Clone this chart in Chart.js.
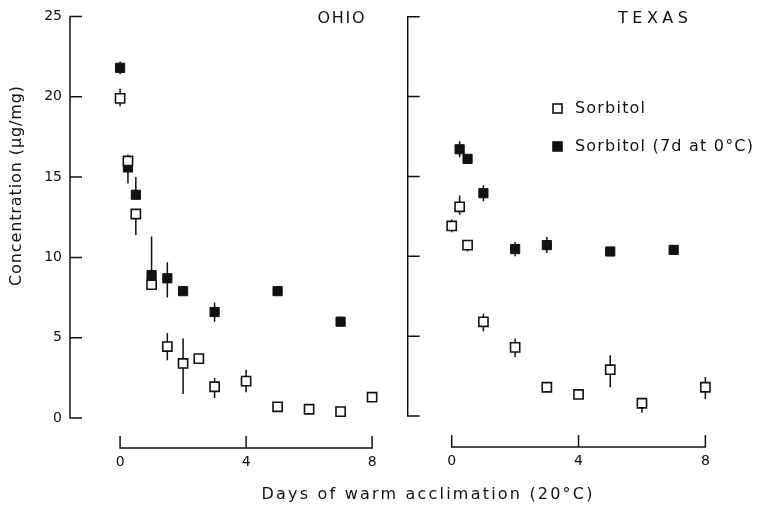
<!DOCTYPE html>
<html>
<head>
<meta charset="utf-8">
<script src="https://cdn.jsdelivr.net/npm/chart.js@4"></script>
<style>
  body { margin: 0; background: #fff; }
  #wrap { position: relative; width: 758px; height: 509px; }
  canvas { position: absolute; left: 0; top: 0; }
</style>
</head>
<body>
<div id="wrap">
  <canvas id="chart-ohio" width="758" height="509"></canvas>
  <canvas id="chart-texas" width="758" height="509"></canvas>
</div>
<script>
// Sorbitol after warm acclimation - two panels
const X_TICKS = [0, 4, 8];
const Y_TICKS = [0, 5, 10, 15, 20, 25];

// OHIO, open squares (Sorbitol)
const ohioOpenX  = [0, 0.25, 0.5, 1, 1.5, 2, 2.5, 3, 4, 5, 6, 7, 8];
const ohioOpenY  = [19.9, 16.0, 12.7, 8.3, 4.45, 3.4, 3.7, 1.95, 2.3, 0.7, 0.55, 0.4, 1.3];
const ohioOpenLo = [19.4, 15.6, 11.4, 8.3, 3.6, 1.5, 3.7, 1.25, 1.6, 0.7, 0.55, 0.4, 1.3];
const ohioOpenHi = [20.5, 16.4, 12.7, 8.3, 5.3, 4.95, 3.7, 2.5, 3.0, 0.7, 0.55, 0.4, 1.3];

// OHIO, filled squares (Sorbitol, 7d at 0°C)
const ohioFillX  = [0, 0.25, 0.5, 1, 1.5, 2, 3, 5, 7];
const ohioFillY  = [21.8, 15.6, 13.9, 8.9, 8.7, 7.9, 6.6, 7.9, 6.0];
const ohioFillLo = [21.4, 14.6, 13.9, 8.9, 7.5, 7.9, 6.0, 7.9, 5.7];
const ohioFillHi = [22.2, 15.6, 15.0, 11.3, 9.7, 7.9, 7.2, 7.9, 6.3];

// TEXAS, open squares
const texOpenX  = [0, 0.25, 0.5, 1, 2, 3, 4, 5, 6, 8];
const texOpenY  = [11.9, 13.1, 10.7, 5.9, 4.3, 1.8, 1.35, 2.9, 0.8, 1.8];
const texOpenLo = [11.5, 12.6, 10.3, 5.3, 3.7, 1.8, 1.35, 1.8, 0.2, 1.05];
const texOpenHi = [12.3, 13.8, 11.0, 6.4, 4.85, 1.8, 1.35, 3.8, 1.1, 2.45];

// TEXAS, filled squares
const texFillX  = [0.25, 0.5, 1, 2, 3, 5, 7];
const texFillY  = [16.7, 16.1, 13.95, 10.45, 10.7, 10.3, 10.4];
const texFillLo = [16.2, 16.1, 13.45, 10.0, 10.2, 10.3, 10.4];
const texFillHi = [17.2, 16.1, 14.45, 10.9, 11.2, 10.3, 10.4];

const LEGEND_LABELS = ['Sorbitol', 'Sorbitol (7d at 0°C)'];
const INK = '#111';
const FONT = "'DejaVu Sans', sans-serif";

function pts(xs, ys) {
    return xs.map((x, i) => ({ x: x, y: ys[i] }));
}

function openSet(xs, ys, lo, hi) {
    return { data: pts(xs, ys), errLo: lo, errHi: hi, pointStyle: 'rect', pointRadius: 6.5,
        backgroundColor: '#fff', borderColor: INK, borderWidth: 1.6, showLine: false };
}

function fillSet(xs, ys, lo, hi) {
    return { data: pts(xs, ys), errLo: lo, errHi: hi, pointStyle: 'rect', pointRadius: 6.5,
        backgroundColor: INK, borderColor: INK, borderWidth: 1, showLine: false };
}

function drawText(ctx, txt, x, y, spacing, rot) {
    ctx.save();
    ctx.translate(x, y);
    if (rot) ctx.rotate(rot);
    ctx.letterSpacing = spacing + 'px';
    ctx.font = '16px ' + FONT;
    ctx.fillStyle = INK;
    ctx.textAlign = 'center';
    ctx.textBaseline = 'middle';
    ctx.fillText(txt, spacing / 2, 0);
    ctx.restore();
}

// axis lines + inward ticks, error bars, labels
const framePlugin = {
    id: 'frame',
    beforeDatasetsDraw(chart, args, opts) {
        const ctx = chart.ctx;
        const xs = chart.scales.x, ys = chart.scales.y;
        const area = chart.chartArea;
        ctx.save();
        ctx.strokeStyle = INK;
        ctx.lineWidth = 1.5;
        // y axis
        const yTop = ys.getPixelForValue(Y_TICKS[Y_TICKS.length - 1]);
        const yBot = ys.getPixelForValue(Y_TICKS[0]);
        ctx.beginPath();
        ctx.moveTo(area.left, yTop - 0.75);
        ctx.lineTo(area.left, yBot + 0.75);
        Y_TICKS.forEach(v => {
            const py = ys.getPixelForValue(v);
            ctx.moveTo(area.left, py);
            ctx.lineTo(area.left + 12, py);
        });
        // x axis
        const xl = xs.getPixelForValue(X_TICKS[0]);
        const xr = xs.getPixelForValue(X_TICKS[X_TICKS.length - 1]);
        ctx.moveTo(xl - 0.75, area.bottom);
        ctx.lineTo(xr + 0.75, area.bottom);
        X_TICKS.forEach(v => {
            const px = xs.getPixelForValue(v);
            ctx.moveTo(px, area.bottom);
            ctx.lineTo(px, area.bottom - 12);
        });
        ctx.stroke();

        // error bars
        chart.data.datasets.forEach(ds => {
            ctx.beginPath();
            ds.data.forEach((p, i) => {
                const lo = ds.errLo[i], hi = ds.errHi[i];
                if (lo === hi) return;
                const px = xs.getPixelForValue(p.x);
                ctx.moveTo(px, ys.getPixelForValue(lo));
                ctx.lineTo(px, ys.getPixelForValue(hi));
            });
            ctx.stroke();
        });
        ctx.restore();
    },
    afterDraw(chart, args, opts) {
        const ctx = chart.ctx;
        if (opts.panel) drawText(ctx, opts.panel, opts.panelX, opts.panelY, opts.panelSpacing);
        if (opts.axisTitles) {
            drawText(ctx, 'Concentration (µg/mg)', 17, 186, 0.9, -Math.PI / 2);
            drawText(ctx, 'Days of warm acclimation (20°C)', 427, 495, 2.2);
        }
        if (opts.legend) {
            const ds = chart.data.datasets;
            const rows = [108.5, 146.5];
            rows.forEach((ly, i) => {
                ctx.save();
                ctx.fillStyle = ds[i].backgroundColor;
                ctx.strokeStyle = ds[i].borderColor;
                ctx.lineWidth = 1.6;
                ctx.fillRect(553, ly - 4.5, 9, 9);
                ctx.strokeRect(553, ly - 4.5, 9, 9);
                ctx.restore();
                ctx.save();
                ctx.font = '16px ' + FONT;
                ctx.letterSpacing = '1.2px';
                ctx.fillStyle = INK;
                ctx.textAlign = 'left';
                ctx.textBaseline = 'middle';
                ctx.fillText(LEGEND_LABELS[i], 575, ly);
                ctx.restore();
            });
        }
    }
};

function panelOptions(p) {
    return {
        responsive: false,
        animation: false,
        devicePixelRatio: 1,
        events: [],
        layout: { padding: { left: 0, top: p.top, right: p.right, bottom: 0 } },
        plugins: {
            legend: { display: false },
            tooltip: { enabled: false },
            frame: p.frame
        },
        scales: {
            x: {
                type: 'linear', min: p.xMin, max: p.xMax,
                afterBuildTicks: s => { s.ticks = X_TICKS.map(v => ({ value: v })); },
                afterFit: s => { s.height = p.xHeight; },
                grid: { display: false, drawTicks: false },
                border: { display: false },
                ticks: { color: INK, font: { family: FONT, size: 14 }, padding: 6, maxRotation: 0 }
            },
            y: {
                type: 'linear', min: p.yMin, max: 25,
                afterBuildTicks: s => { s.ticks = Y_TICKS.map(v => ({ value: v })); },
                afterFit: s => { s.width = p.yWidth; },
                grid: { display: false, drawTicks: false },
                border: { display: false },
                ticks: { display: p.yLabels, color: INK, font: { family: FONT, size: 14 }, padding: 8 }
            }
        }
    };
}

function initCharts() {
    new Chart(document.getElementById('chart-ohio'), {
        type: 'scatter',
        data: { datasets: [
            openSet(ohioOpenX, ohioOpenY, ohioOpenLo, ohioOpenHi),
            fillSet(ohioFillX, ohioFillY, ohioFillLo, ohioFillHi)
        ] },
        options: panelOptions({
            top: 15.5, right: 373, xHeight: 61, yWidth: 70,
            xMin: -1.59, xMax: 8.41, yMin: -1.863, yLabels: true,
            frame: { panel: 'OHIO', panelX: 341, panelY: 19, panelSpacing: 1.7, axisTitles: true }
        }),
        plugins: [framePlugin]
    });

    new Chart(document.getElementById('chart-texas'), {
        type: 'scatter',
        data: { datasets: [
            openSet(texOpenX, texOpenY, texOpenLo, texOpenHi),
            fillSet(texFillX, texFillY, texFillLo, texFillHi)
        ] },
        options: panelOptions({
            top: 16.7, right: 13, xHeight: 62, yWidth: 407.7,
            xMin: -1.388, xMax: 9.25, yMin: -1.94, yLabels: false,
            frame: { panel: 'TEXAS', panelX: 653, panelY: 19, panelSpacing: 4.5, legend: true }
        }),
        plugins: [framePlugin]
    });
}

initCharts();
</script>
</body>
</html>
